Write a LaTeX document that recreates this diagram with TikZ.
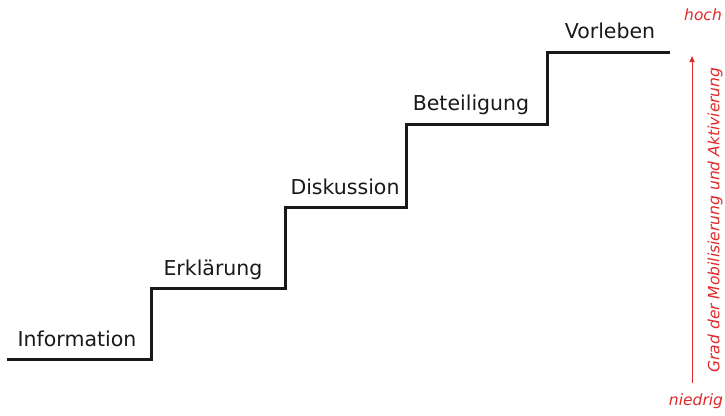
\documentclass[tikz,border=0pt]{standalone}
\usepackage{fontspec}
\setmainfont{DejaVu Sans}
\definecolor{stairgray}{RGB}{25,25,25}
\definecolor{levelred}{RGB}{225,40,40}
\usetikzlibrary{arrows.meta}

\begin{document}
\begin{tikzpicture}[x=1pt,y=-1pt,
    stairline/.style={stairgray, line width=3pt, line cap=rect},
    steplabel/.style={anchor=base, inner sep=0pt, font=\fontsize{20.5}{24}\selectfont, text=stairgray},
    levellabel/.style={inner sep=0pt, font=\fontsize{15.5}{18}\selectfont\itshape, text=levelred}]
        \useasboundingbox (0,0) rectangle (725,415);

        % stairs
        \draw[stairline] (8,359) -- (151,359) -- (151,288) -- (285,288) -- (285,207)
          -- (406,207) -- (406,124) -- (547,124) -- (547,52) -- (668,52);

        \node[steplabel] (info) at (77,346) {Information};
        \node[steplabel] (erkl) at (213,275) {Erklärung};
        \node[steplabel] (disk) at (345,194) {Diskussion};
        \node[steplabel] (beteil) at (471,110) {Beteiligung};
        \node[steplabel] (vorl) at (610,38) {Vorleben};

        % scale on the right
        \coordinate (low) at (692,383);
        \coordinate (high) at (692,56);
        \draw[levelred, line width=1pt, -{Triangle[length=6pt,width=5pt]}] (low) -- (high);
        \node[levellabel, anchor=base] (hoch) at (703,20) {hoch};
        \node[levellabel, anchor=base] (niedrig) at (696,405) {niedrig};
        \node[levellabel, rotate=90] (grad) at (715,220) {Grad der Mobilisierung und Aktivierung};
      \end{tikzpicture}
\end{document}
